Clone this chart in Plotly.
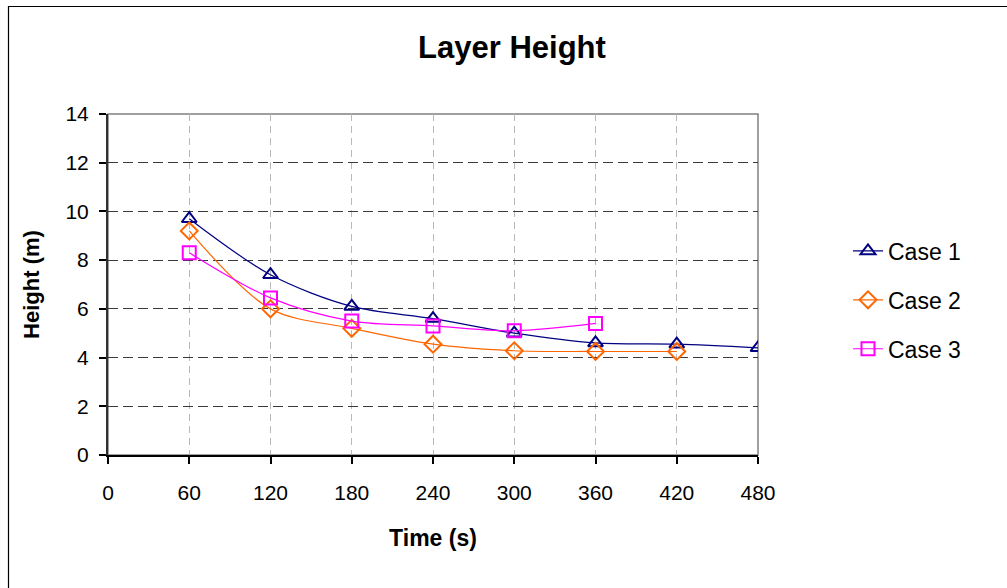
import plotly.graph_objects as go

# Layer height over time for three cases
time_s = [60, 120, 180, 240, 300, 360, 420, 480]
case1 = [9.7, 7.4, 6.1, 5.6, 5.0, 4.6, 4.55, 4.4]
case2 = [9.2, 6.0, 5.2, 4.55, 4.28, 4.25, 4.25]
case3 = [8.3, 6.45, 5.5, 5.3, 5.1, 5.4]

x_ticks = [0, 60, 120, 180, 240, 300, 360, 420, 480]
y_ticks = [0, 2, 4, 6, 8, 10, 12, 14]

FONT = "Liberation Sans, Arial, sans-serif"

series = [
    ("Case 1", case1, "#000080", "triangle-up-open"),
    ("Case 2", case2, "#FF6600", "diamond-open"),
    ("Case 3", case3, "#FF00FF", "square-open"),
]

fig = go.Figure()
for i, (name, vals, color, symbol) in enumerate(series):
    fig.add_trace(go.Scatter(
        x=time_s[:len(vals)], y=vals, name=name, mode="lines+markers",
        line=dict(color=color, width=1.2, shape="spline", smoothing=0.9),
        marker=dict(symbol=symbol, size=13, color=color,
                    line=dict(color=color, width=2)),
        legendgroup=f"g{i}",
    ))

# plot-area layout in pixels
W, H = 1007, 588
L, R, T, B = 108, 758, 114, 455

def px_x(p):
    return (p - L) / (R - L)

def px_y(p):
    return (B - p) / (B - T)

fig.update_layout(
    width=W, height=H,
    margin=dict(l=L, r=W - R, t=T, b=H - B),
    paper_bgcolor="white", plot_bgcolor="white",
    font=dict(family=FONT, size=21, color="black"),
    title=dict(text="<b>Layer Height</b>", x=512 / W, xanchor="center",
               y=1 - 47 / H, yanchor="middle", yref="container",
               font=dict(size=31, family=FONT)),
    showlegend=True,
    legend=dict(x=px_x(848), y=px_y(300), xanchor="left", yanchor="middle",
                font=dict(size=23, family=FONT), tracegroupgap=16,
                bgcolor="rgba(0,0,0,0)", itemwidth=30),
    shapes=[
        # plot-area frame
        dict(type="rect", xref="paper", yref="paper", x0=0, x1=1, y0=0, y1=1,
             line=dict(color="#808080", width=1.5), layer="below"),
        # chart border
        dict(type="rect", xref="paper", yref="paper",
             x0=px_x(8.5), x1=px_x(1012), y0=px_y(592), y1=px_y(6.5),
             line=dict(color="black", width=1.2)),
    ],
)

fig.update_xaxes(
    range=[0, 480], tickvals=x_ticks, ticktext=[str(v) for v in x_ticks],
    showgrid=True, gridcolor="#b8b8b8", griddash="7px,5px", gridwidth=1.2,
    showline=True, linecolor="black", linewidth=2,
    ticks="outside", ticklen=7, tickcolor="black", tickwidth=1.5,
    ticklabelstandoff=11, zeroline=False,
    title=dict(text="<b>Time (s)</b>", font=dict(size=23, family=FONT), standoff=27),
    tickfont=dict(size=21, family=FONT),
)
fig.update_yaxes(
    range=[0, 14], tickvals=y_ticks, ticktext=[str(v) for v in y_ticks],
    showgrid=True, gridcolor="#3a3a3a", griddash="10px,5px", gridwidth=1.3,
    showline=True, linecolor="#303030", linewidth=2,
    ticks="outside", ticklen=7, tickcolor="black", tickwidth=1.5,
    ticklabelstandoff=6, zeroline=False,
    title=dict(text="<b>Height (m)</b>", font=dict(size=22, family=FONT), standoff=20),
    tickfont=dict(size=21, family=FONT),
)

fig.write_html("out.html")
